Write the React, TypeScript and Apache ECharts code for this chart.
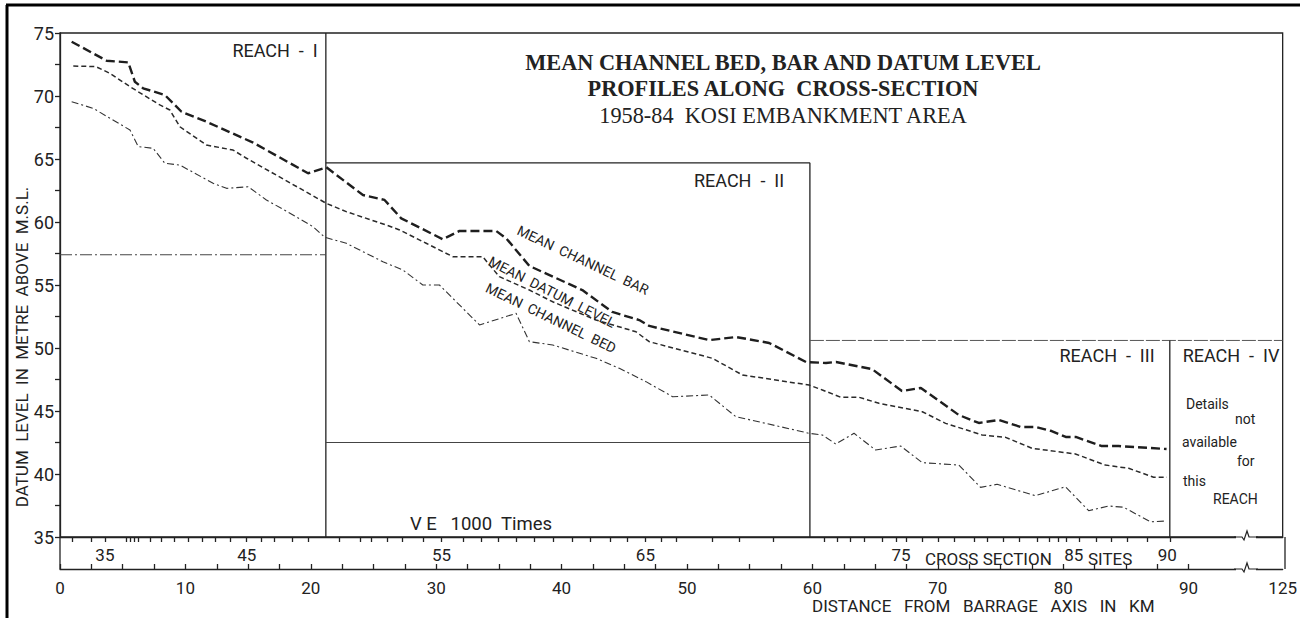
import React, { useEffect, useRef } from 'react';
import * as echarts from 'echarts';

// ---- Mean channel bar (top line) ----
const barKm = [0.93, 3.72, 5.44, 5.97, 6.63, 8.36, 9.69, 11.68, 15.4, 19.78, 21.24, 24.16, 25.88, 27.21, 30.53, 31.86, 34.78, 35.58, 37.43, 41.65, 44.04, 46.19, 46.99, 51.77, 53.92, 56.55, 59.49, 61.08, 61.88, 64.75, 67.14, 68.65, 71.68, 73.27, 74.86, 76.62, 77.81, 79.08, 80.2, 81.0, 83.07, 84.42, 88.24];
const barLevel = [74.31, 72.8, 72.67, 71.13, 70.61, 70.08, 68.75, 67.96, 66.3, 63.87, 64.34, 62.14, 61.75, 60.29, 58.63, 59.29, 59.29, 58.71, 56.51, 54.6, 52.86, 52.22, 51.75, 50.63, 50.87, 50.4, 48.89, 48.81, 48.89, 48.33, 46.59, 46.83, 44.68, 44.05, 44.29, 43.73, 43.73, 43.41, 42.94, 42.94, 42.22, 42.22, 41.98];

// ---- Mean datum level (middle line) ----
const datumKm = [1.06, 2.87, 3.98, 5.58, 7.96, 8.76, 9.56, 11.68, 13.8, 14.87, 21.24, 22.83, 26.02, 27.08, 29.2, 31.32, 33.71, 34.25, 35.04, 37.43, 39.29, 42.74, 45.93, 46.99, 52.03, 54.42, 59.73, 60.79, 62.26, 63.71, 65.31, 68.76, 70.62, 73.53, 75.4, 77.52, 80.97, 83.36, 85.22, 87.21, 88.27];
const datumLevel = [72.38, 72.33, 71.8, 70.74, 69.29, 68.89, 67.56, 66.11, 65.71, 65.06, 61.48, 60.82, 59.76, 59.37, 58.31, 57.25, 57.25, 56.59, 55.66, 54.6, 53.67, 52.22, 51.29, 50.5, 49.18, 47.86, 47.06, 46.67, 46.09, 46.09, 45.61, 44.94, 44.02, 43.1, 42.91, 42.04, 41.59, 40.71, 40.45, 39.74, 39.74];

// ---- Mean channel bed (bottom line) ----
const bedKm = [0.93, 2.65, 5.58, 6.24, 7.43, 8.36, 9.56, 12.21, 13.28, 15.0, 16.46, 18.58, 20.17, 21.11, 22.83, 25.75, 27.34, 28.93, 30.26, 33.45, 36.37, 37.43, 39.29, 42.74, 44.6, 46.73, 48.85, 51.77, 53.89, 56.28, 59.73, 60.79, 61.86, 63.32, 65.04, 67.04, 68.76, 71.68, 73.41, 74.73, 77.79, 80.18, 82.03, 83.63, 84.82, 86.95, 88.27];
const bedLevel = [69.55, 69.02, 67.3, 65.98, 65.85, 64.66, 64.52, 63.07, 62.67, 62.8, 61.75, 60.56, 59.63, 58.79, 58.31, 56.85, 56.19, 55.0, 55.0, 51.83, 52.75, 50.5, 50.24, 49.18, 48.39, 47.33, 46.13, 46.27, 44.55, 44.02, 43.23, 43.1, 42.38, 43.23, 41.9, 42.22, 40.9, 40.71, 38.94, 39.18, 38.28, 38.99, 37.09, 37.46, 37.36, 36.21, 36.27];

// ---- Reach boundaries ----
const reachDividerKm = [21.2, 59.8, 88.5];
const reach1RefLevel = 57.4;
const reach2TopLevel = 64.7;
const reach2BottomLevel = 42.5;
const reach3TopLevel = 50.6;

// ---- Axes ----
const levelMin = 35;
const levelMax = 75;
const kmMin = 0;
const kmMax = 97.5; // axis end, labelled 125 after the break
const distLabelKm = [0, 10, 20, 30, 40, 50, 60, 70, 80, 90, 97.5];
const distLabels = ['0', '10', '20', '30', '40', '50', '60', '70', '80', '90', '125'];
const distTickKm = Array.from({ length: 37 }, (_, i) => i * 2.5);
const siteTickKm = [0.96, 2.47, 3.58, 5.26, 5.58, 5.89, 6.21, 7.17, 8.04, 9.08, 10.19, 11.31, 12.42, 13.54, 14.89, 16.01, 17.12, 18.56, 19.83, 22.3, 23.97, 24.85, 26.12, 27.32, 28.99, 30.42, 32.18, 33.61, 34.96, 36.4, 37.83, 39.34, 40.86, 42.29, 43.88, 45.24, 46.68, 47.95, 49.14, 52.01, 54.16, 56.87, 60.93, 61.96, 63.0, 64.11, 65.55, 66.66, 67.46, 68.73, 70.01, 71.28, 72.87, 73.91, 75.18, 76.46, 77.89, 78.85, 79.64, 80.28, 81.24, 82.67, 83.86, 85.14, 86.73, 88.56];
const siteLabelKm = [3.58, 14.89, 30.42, 46.68, 67.06, 80.84, 88.3];
const siteLabels = ['35', '45', '55', '65', '75', '85', '90'];

const INK = '#222222';
const SANS = 'Roboto, "DejaVu Sans", sans-serif';
const SERIF = '"Liberation Serif", "DejaVu Serif", serif';

const zip = (xs: number[], ys: number[]) => xs.map((x, i) => [x, ys[i]]);
const lookup = (vals: number[], labels: string[], v: number) => {
  const i = vals.findIndex((k) => Math.abs(k - v) < 1e-6);
  return i >= 0 ? labels[i] : '';
};

function txt(text: string, x: number, y: number, o: any = {}) {
  const align = o.align || 'left';
  return {
    type: 'text',
    x,
    y,
    rotation: o.rotation || 0,
    silent: true,
    z: 10,
    style: {
      text,
      fill: o.fill || INK,
      fontSize: o.fontSize || 16,
      fontFamily: o.fontFamily || SANS,
      fontWeight: o.fontWeight || 'normal',
      align,
      textAlign: align,
      verticalAlign: 'middle',
      textVerticalAlign: 'middle',
    },
  };
}

function seg(points: number[][], width: number, type: any, color = INK) {
  return {
    type: 'line',
    data: points,
    symbol: 'none',
    silent: true,
    z: 2,
    lineStyle: { color, width, type },
  };
}

function breakMark(y: number) {
  return [
    { type: 'rect', shape: { x: 1236, y: y - 3, width: 20, height: 6 }, style: { fill: '#fff' }, z: 9, silent: true },
    {
      type: 'polyline',
      shape: { points: [[1234, y], [1242, y], [1244, y + 3], [1247, y - 6], [1249, y], [1258, y]] },
      style: { stroke: INK, lineWidth: 1.2, fill: 'none' },
      z: 10,
      silent: true,
    },
  ];
}

export default function App() {
  const ref = useRef<HTMLDivElement>(null);

  useEffect(() => {
    const chart = echarts.init(ref.current!, null, { renderer: 'svg' });
    const [d1, d2, d3] = reachDividerKm;
    const axisLineStyle = { color: INK, width: 1.3 };

    const option: any = {
      animation: false,
      backgroundColor: '#ffffff',
      grid: {
        left: 60,
        top: 33,
        width: 1225,
        height: 504,
        show: true,
        borderColor: INK,
        borderWidth: 1.3,
      },
      xAxis: [
        {
          type: 'value',
          min: kmMin,
          max: kmMax,
          position: 'bottom',
          offset: 32,
          axisLine: { show: true, onZero: false, lineStyle: axisLineStyle },
          axisTick: { show: true, inside: true, length: 5, customValues: distTickKm, lineStyle: axisLineStyle },
          axisLabel: {
            customValues: distLabelKm,
            formatter: (v: number) => lookup(distLabelKm, distLabels, v),
            margin: 10,
            fontSize: 17,
            fontFamily: SANS,
            color: INK,
          },
          splitLine: { show: false },
        },
        {
          type: 'value',
          min: kmMin,
          max: kmMax,
          position: 'bottom',
          offset: 0,
          axisLine: { show: true, onZero: false, lineStyle: axisLineStyle },
          axisTick: { show: true, inside: false, length: 5, customValues: siteTickKm, lineStyle: axisLineStyle },
          axisLabel: {
            customValues: siteLabelKm,
            formatter: (v: number) => lookup(siteLabelKm, siteLabels, v),
            margin: 9,
            fontSize: 17,
            fontFamily: SANS,
            color: INK,
          },
          splitLine: { show: false },
        },
      ],
      yAxis: {
        type: 'value',
        min: levelMin,
        max: levelMax,
        interval: 2.5,
        axisLine: { show: true, onZero: false, lineStyle: axisLineStyle },
        axisTick: { show: true, inside: false, length: 5, lineStyle: axisLineStyle },
        axisLabel: {
          formatter: (v: number) => (v % 5 === 0 ? String(v) : ''),
          margin: 6,
          fontSize: 18,
          fontFamily: SANS,
          color: INK,
        },
        splitLine: { show: false },
      },
      series: [
        {
          name: 'MEAN CHANNEL BAR',
          type: 'line',
          data: zip(barKm, barLevel),
          symbol: 'none',
          silent: true,
          z: 4,
          lineStyle: { color: '#1e1e1e', width: 2.4, type: [9, 4] },
        },
        {
          name: 'MEAN DATUM LEVEL',
          type: 'line',
          data: zip(datumKm, datumLevel),
          symbol: 'none',
          silent: true,
          z: 4,
          lineStyle: { color: '#2a2a2a', width: 1.5, type: [5, 3] },
        },
        {
          name: 'MEAN CHANNEL BED',
          type: 'line',
          data: zip(bedKm, bedLevel),
          symbol: 'none',
          silent: true,
          z: 4,
          lineStyle: { color: '#333', width: 1.1, type: [7, 3, 2, 3] },
        },
        seg([[d1, levelMax], [d1, levelMin]], 1.3, 'solid'),
        seg([[kmMin, reach1RefLevel], [d1, reach1RefLevel]], 1, [12, 3, 2, 3], '#444'),
        seg([[d1, reach2TopLevel], [d2, reach2TopLevel]], 1.2, 'solid'),
        seg([[d1, reach2BottomLevel], [d2, reach2BottomLevel]], 1, 'solid', '#444'),
        seg([[d2, reach2TopLevel], [d2, levelMin]], 1.3, 'solid'),
        seg([[d2, reach3TopLevel], [kmMax, reach3TopLevel]], 1, [14, 2], '#555'),
        seg([[d3, reach3TopLevel], [d3, levelMin]], 1.3, 'solid'),
      ],
      graphic: [
        // outer scan frame
        { type: 'line', shape: { x1: 6, y1: 5, x2: 1300, y2: 5 }, style: { stroke: '#000', lineWidth: 3 }, silent: true },
        { type: 'line', shape: { x1: 7, y1: 5, x2: 7, y2: 618 }, style: { stroke: '#000', lineWidth: 3 }, silent: true },
        // frame between the two horizontal axes
        { type: 'line', shape: { x1: 60, y1: 537, x2: 60, y2: 569 }, style: { stroke: INK, lineWidth: 1.3 }, silent: true },
        { type: 'line', shape: { x1: 1285, y1: 537, x2: 1285, y2: 569 }, style: { stroke: INK, lineWidth: 1.3 }, silent: true },
        ...breakMark(537),
        ...breakMark(569),
        // title
        txt('MEAN CHANNEL BED, BAR AND DATUM LEVEL', 783, 62, { align: 'center', fontFamily: SERIF, fontWeight: 'bold', fontSize: 22.3, fill: '#222' }),
        txt('PROFILES ALONG  CROSS-SECTION', 783, 88, { align: 'center', fontFamily: SERIF, fontWeight: 'bold', fontSize: 22.3, fill: '#222' }),
        txt('1958-84  KOSI EMBANKMENT AREA', 783, 115, { align: 'center', fontFamily: SERIF, fontSize: 22.3, fill: '#222' }),
        // y axis title
        txt('DATUM  LEVEL  IN  METRE  ABOVE  M.S.L.', 22, 347, { align: 'center', rotation: Math.PI / 2, fontSize: 17 }),
        // reach labels
        txt('REACH  -  I', 275, 50, { align: 'center', fontSize: 18 }),
        txt('REACH  -  II', 739, 180, { align: 'center', fontSize: 18 }),
        txt('REACH  -  III', 1107, 355, { align: 'center', fontSize: 18 }),
        txt('REACH  -  IV', 1231, 355, { align: 'center', fontSize: 18 }),
        txt('Details', 1186, 404, { fontSize: 14 }),
        txt('not', 1235, 419, { fontSize: 14 }),
        txt('available', 1182, 442, { fontSize: 14 }),
        txt('for', 1237, 461, { fontSize: 14 }),
        txt('this', 1183, 481, { fontSize: 14 }),
        txt('REACH', 1213, 499, { fontSize: 14 }),
        // line labels
        txt('MEAN  CHANNEL  BAR', 583, 260, { align: 'center', rotation: -0.44, fontSize: 14 }),
        txt('MEAN  DATUM  LEVEL', 552, 292, { align: 'center', rotation: -0.47, fontSize: 14 }),
        txt('MEAN  CHANNEL  BED', 551, 318, { align: 'center', rotation: -0.45, fontSize: 14 }),
        // misc
        txt('V E   1000  Times', 481, 524, { align: 'center', fontSize: 18.5 }),
        txt('CROSS SECTION', 925, 559, { fontSize: 17 }),
        txt('SITES', 1088, 559, { fontSize: 17 }),
        txt('DISTANCE   FROM   BARRAGE   AXIS   IN   KM', 812, 606, { fontSize: 17 }),
      ],
    };

    chart.setOption(option);
    return () => chart.dispose();
  }, []);

  return (
    <div
      ref={ref}
      style={{ position: 'fixed', left: 0, top: 0, width: 1300, height: 618, background: '#fff' }}
    />
  );
}
